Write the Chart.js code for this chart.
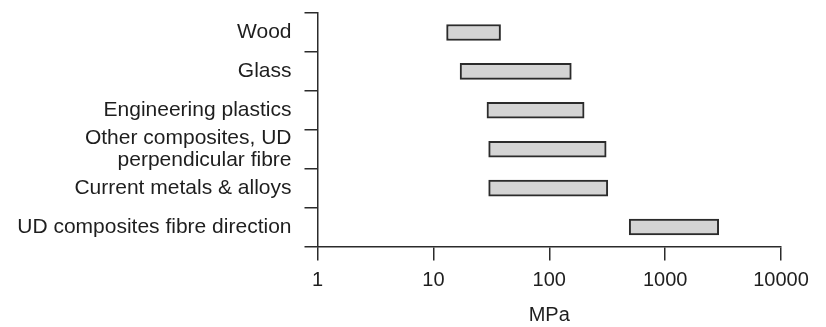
<!DOCTYPE html>
<html>
<head>
<meta charset="utf-8">
<script src="https://cdn.jsdelivr.net/npm/chart.js@4/dist/chart.umd.min.js"></script>
<style>
  html, body { margin: 0; padding: 0; background: #fff; }
  #wrap { width: 826px; height: 327px; }
</style>
</head>
<body>
<div id="wrap"><canvas id="strength-chart"></canvas></div>
<script>
'use strict';

// materials, top to bottom
var materials = [
    'Wood',
    'Glass',
    'Engineering plastics',
    ['Other composites, UD', 'perpendicular fibre'],
    'Current metals & alloys',
    'UD composites fibre direction'
];
// strength range in MPa, low and high end of each bar
var lowMPa = [13, 17, 29, 30, 30, 490];
var highMPa = [38, 155, 200, 310, 320, 2900];
var xTicks = [1, 10, 100, 1000, 10000];

var ink = '#2b2b2b';
var family = "'Liberation Sans', Arial, sans-serif";
var font = { family: family, size: 20 };

var ranges = lowMPa.map((lo, i) => [lo, highMPa[i]]);

var canvas = document.getElementById('strength-chart');
new Chart(canvas, {
    type: 'bar',
    data: {
        labels: materials,
        datasets: [{
            data: ranges,
            backgroundColor: '#d4d4d4',
            borderColor: ink,
            borderWidth: 2,
            borderSkipped: false,
            barThickness: 16
        }]
    },
    options: {
        indexAxis: 'y',
        responsive: true,
        maintainAspectRatio: false,
        animation: false,
        layout: { padding: { top: 13, right: 45, left: 0, bottom: 0 } },
        plugins: {
            legend: { display: false },
            tooltip: { enabled: false }
        },
        scales: {
            x: {
                type: 'logarithmic',
                min: 1,
                max: 10000,
                afterBuildTicks: scale => {
                    scale.ticks = xTicks.map(v => ({ value: v }));
                },
                afterFit: scale => { scale.height = 80.5; },
                grid: {
                    drawOnChartArea: false,
                    color: ink,
                    lineWidth: 1.5,
                    tickLength: 14
                },
                border: { color: ink, width: 1.5 },
                ticks: {
                    color: '#1e1e1e',
                    font: font,
                    padding: 8,
                    autoSkip: false,
                    callback: v => String(v)
                },
                title: {
                    display: true,
                    text: 'MPa',
                    color: '#1e1e1e',
                    font: font,
                    padding: { top: 0, bottom: 0 }
                }
            },
            y: {
                afterFit: scale => {
                    scale.width = 317.5;
                    scale.paddingTop = 0;
                    scale.paddingBottom = 0;
                },
                grid: {
                    drawOnChartArea: false,
                    color: ink,
                    lineWidth: 1.5,
                    tickLength: 13
                },
                border: { color: ink, width: 1.5 },
                ticks: {
                    color: '#1e1e1e',
                    font: { family: family, size: 21, lineHeight: 1.02 },
                    padding: 13,
                    autoSkip: false
                }
            }
        }
    }
});
</script>
</body>
</html>
